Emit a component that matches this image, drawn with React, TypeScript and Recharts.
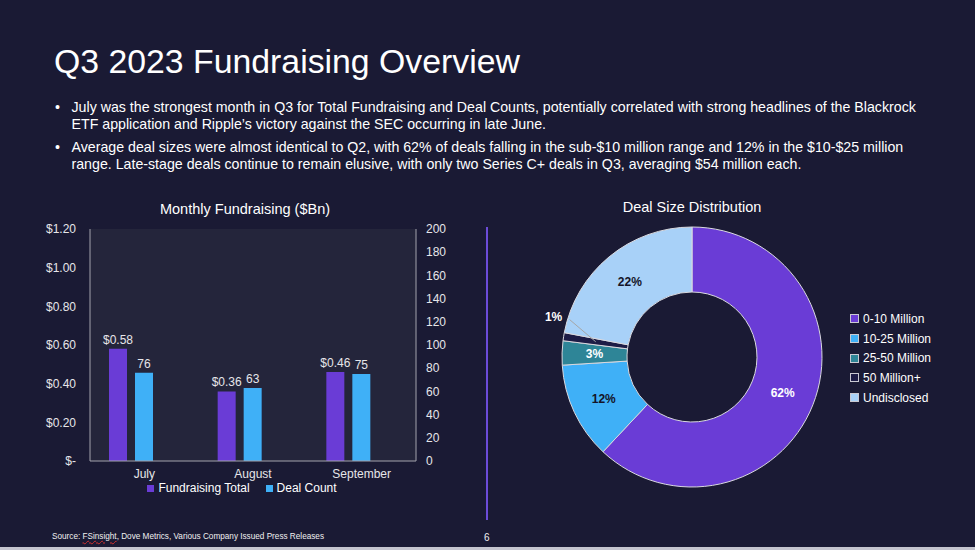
import React from 'react';
import {
  Bar,
  BarChart,
  CartesianGrid,
  Cell,
  LabelList,
  Legend,
  Pie,
  PieChart,
  XAxis,
  YAxis,
} from 'recharts';

// monthly fundraising
const months = ['July', 'August', 'September'];
const fundraisingBn = [0.58, 0.36, 0.46];
const dealCounts = [76, 63, 75];
const leftTicks = [0, 0.2, 0.4, 0.6, 0.8, 1.0, 1.2];
const rightTicks = [0, 20, 40, 60, 80, 100, 120, 140, 160, 180, 200];
const barLegendOrder = ['Fundraising Total', 'Deal Count'];

// deal size distribution (%)
const sizeBuckets = ['0-10 Million', '10-25 Million', '25-50 Million', '50 Million+', 'Undisclosed'];
const sizeShares = [62, 12, 3, 1, 22];

const BG = '#1a1a34';
const PLOT_BG = '#24253b';
const BORDER = '#a3a3ad';
const TEXT = '#ffffff';
const AXIS_TEXT = '#e6e6ea';
const PURPLE = '#6a3cd6';
const SKY = '#3fb0f7';
const FONT = '"Liberation Sans", Arial, sans-serif';

const sliceColors = [PURPLE, SKY, '#2e8597', '#1d1c46', '#a8d1f8'];
const sliceLabelColors = ['#ffffff', '#141428', '#ffffff', '#ffffff', '#141428'];

const barRows = months.map((m, i) => ({
  month: m,
  fundraising: fundraisingBn[i],
  deals: dealCounts[i],
}));

const pieRows = sizeBuckets.map((name, i) => ({ name, value: sizeShares[i] }));

const RADIAN = Math.PI / 180;

function SliceLabel(props: any) {
  const { cx, cy, midAngle, innerRadius, outerRadius, index, value } = props;
  const mid = (innerRadius + outerRadius) / 2;
  const color = sliceLabelColors[index];
  if (value < 2) {
    // tiny slice: label sits outside with a leader line, like the original
    const sx = cx + mid * Math.cos(-midAngle * RADIAN);
    const sy = cy + mid * Math.sin(-midAngle * RADIAN);
    const ex = cx + 128 * Math.cos(-(midAngle - 8) * RADIAN);
    const ey = cy + 128 * Math.sin(-(midAngle - 8) * RADIAN);
    const lx = cx + 144 * Math.cos(-(midAngle - 7) * RADIAN);
    const ly = cy + 144 * Math.sin(-(midAngle - 7) * RADIAN);
    return (
      <g>
        <line x1={sx} y1={sy} x2={ex} y2={ey} stroke="#a6a6a6" strokeWidth={1} />
        <text x={lx} y={ly} fill="#ffffff" fontSize={12} fontWeight="bold" fontFamily={FONT} textAnchor="middle" dominantBaseline="central">
          {value}%
        </text>
      </g>
    );
  }
  const x = cx + mid * Math.cos(-midAngle * RADIAN);
  const y = cy + mid * Math.sin(-midAngle * RADIAN);
  return (
    <text x={x} y={y} fill={color} fontSize={12} fontWeight="bold" fontFamily={FONT} textAnchor="middle" dominantBaseline="central">
      {value}%
    </text>
  );
}

function PieLegend() {
  return (
    <ul style={{ listStyle: 'none', margin: 0, padding: 0, fontFamily: FONT, fontSize: 12, color: TEXT }}>
      {sizeBuckets.map((name, i) => (
        <li key={name} style={{ display: 'flex', alignItems: 'center', height: 19.7, whiteSpace: 'nowrap' }}>
          <span
            style={{
              display: 'inline-block',
              width: 7,
              height: 7,
              background: sliceColors[i],
              border: '1px solid #c9c9d2',
              marginRight: 4,
            }}
          />
          {name}
        </li>
      ))}
    </ul>
  );
}

const money = (v: number) => (v === 0 ? '$-' : `$${v.toFixed(2)}`);

export default function App() {
  return (
    <div
      style={{
        position: 'fixed',
        left: 0,
        top: 0,
        width: 975,
        height: 550,
        background: BG,
        fontFamily: FONT,
        color: TEXT,
        overflow: 'hidden',
      }}
    >
      <div style={{ position: 'absolute', left: 54, top: 45.4, fontSize: 33.8, lineHeight: 1, whiteSpace: 'nowrap' }}>
        Q3 2023 Fundraising Overview
      </div>

      <div style={{ position: 'absolute', left: 55, top: 98.7, fontSize: 14.2, lineHeight: '17px', whiteSpace: 'nowrap' }}>
        <div style={{ display: 'flex' }}>
          <span style={{ width: 16.5 }}>•</span>
          <span>
            July was the strongest month in Q3 for Total Fundraising and Deal Counts, potentially correlated with strong headlines of the Blackrock
            <br />
            ETF application and Ripple’s victory against the SEC occurring in late June.
          </span>
        </div>
        <div style={{ display: 'flex', marginTop: 6.5 }}>
          <span style={{ width: 16.5 }}>•</span>
          <span>
            Average deal sizes were almost identical to Q2, with 62% of deals falling in the sub-$10 million range and 12% in the $10-$25 million
            <br />
            range. Late-stage deals continue to remain elusive, with only two Series C+ deals in Q3, averaging $54 million each.
          </span>
        </div>
      </div>

      <div style={{ position: 'absolute', left: 30, width: 430, top: 200, textAlign: 'center', fontSize: 14.5, lineHeight: '18px' }}>
        Monthly Fundraising ($Bn)
      </div>

      <div style={{ position: 'absolute', left: 30, top: 220 }}>
        <BarChart
          width={420}
          height={285}
          data={barRows}
          margin={{ top: 9, right: 0, left: 0, bottom: 5 }}
          barSize={18}
          barGap={8}
        >
          <CartesianGrid yAxisId="left" horizontal={false} vertical={false} fill={PLOT_BG} />
          <XAxis
            dataKey="month"
            tickLine={false}
            axisLine={{ stroke: BORDER }}
            tick={{ fill: AXIS_TEXT, fontSize: 12, fontFamily: FONT }}
            height={25}
          />
          <XAxis xAxisId="top" dataKey="month" orientation="top" height={0} tick={false} tickLine={false} axisLine={{ stroke: BORDER }} />
          <YAxis
            yAxisId="left"
            domain={[0, 1.2]}
            ticks={leftTicks}
            tickFormatter={money}
            width={60}
            tickLine={false}
            tickMargin={8}
            axisLine={{ stroke: BORDER }}
            tick={{ fill: AXIS_TEXT, fontSize: 12, fontFamily: FONT }}
          />
          <YAxis
            yAxisId="right"
            orientation="right"
            domain={[0, 200]}
            ticks={rightTicks}
            width={34}
            tickLine={false}
            tickMargin={4}
            axisLine={{ stroke: BORDER }}
            tick={{ fill: AXIS_TEXT, fontSize: 12, fontFamily: FONT }}
          />
          <Legend
            verticalAlign="bottom"
            align="center"
            iconType="square"
            iconSize={7}
            itemSorter={(item: any) => barLegendOrder.indexOf(item.value)}
            wrapperStyle={{ fontFamily: FONT, fontSize: 12, bottom: 10, transform: 'translateX(10px)' }}
            formatter={(value: string) => <span style={{ color: TEXT, paddingRight: 6 }}>{value}</span>}
          />
          <Bar yAxisId="left" dataKey="fundraising" name="Fundraising Total" fill={PURPLE} isAnimationActive={false}>
            <LabelList dataKey="fundraising" position="top" formatter={(v: any) => money(Number(v))} fill={AXIS_TEXT} fontSize={12} fontFamily={FONT} />
          </Bar>
          <Bar yAxisId="right" dataKey="deals" name="Deal Count" fill={SKY} isAnimationActive={false}>
            <LabelList dataKey="deals" position="top" fill={AXIS_TEXT} fontSize={12} fontFamily={FONT} />
          </Bar>
          {/* empty slot so the deal count bar sits centred under each month, as in the original */}
          <Bar yAxisId="left" dataKey="slot" legendType="none" fill="transparent" isAnimationActive={false} />
        </BarChart>
      </div>

      <div style={{ position: 'absolute', left: 486, top: 227, width: 2, height: 293, background: '#6c4cd8' }} />

      <div style={{ position: 'absolute', left: 490, width: 404, top: 198, textAlign: 'center', fontSize: 14.5, lineHeight: '18px' }}>
        Deal Size Distribution
      </div>

      <div style={{ position: 'absolute', left: 490, top: 200 }}>
        <PieChart width={480} height={310} margin={{ top: 0, right: 0, bottom: 0, left: 0 }}>
          <Pie
            data={pieRows}
            dataKey="value"
            nameKey="name"
            cx={202}
            cy={157}
            innerRadius={65}
            outerRadius={130}
            startAngle={90}
            endAngle={-270}
            stroke="#d9d9df"
            strokeWidth={1}
            label={SliceLabel}
            labelLine={false}
            isAnimationActive={false}
          >
            {pieRows.map((row, i) => (
              <Cell key={row.name} fill={sliceColors[i]} />
            ))}
          </Pie>
          <Legend
            layout="vertical"
            align="right"
            verticalAlign="top"
            content={PieLegend}
            wrapperStyle={{ left: 360, top: 109, width: 110 }}
          />
        </PieChart>
      </div>

      <div style={{ position: 'absolute', left: 52, top: 532, fontSize: 8.2, lineHeight: '10px', whiteSpace: 'nowrap', color: '#f0f0f0' }}>
        Source:{' '}
        <span style={{ textDecoration: 'underline wavy #d03030', textDecorationThickness: 1 }}>FSinsight</span>, Dove Metrics, Various Company Issued Press Releases
      </div>
      <div style={{ position: 'absolute', left: 484, top: 532, fontSize: 10, lineHeight: '12px', color: '#f0f0f0' }}>6</div>

      <div style={{ position: 'absolute', left: 0, top: 547, width: 975, height: 3, background: '#c5c5cf' }} />
    </div>
  );
}
